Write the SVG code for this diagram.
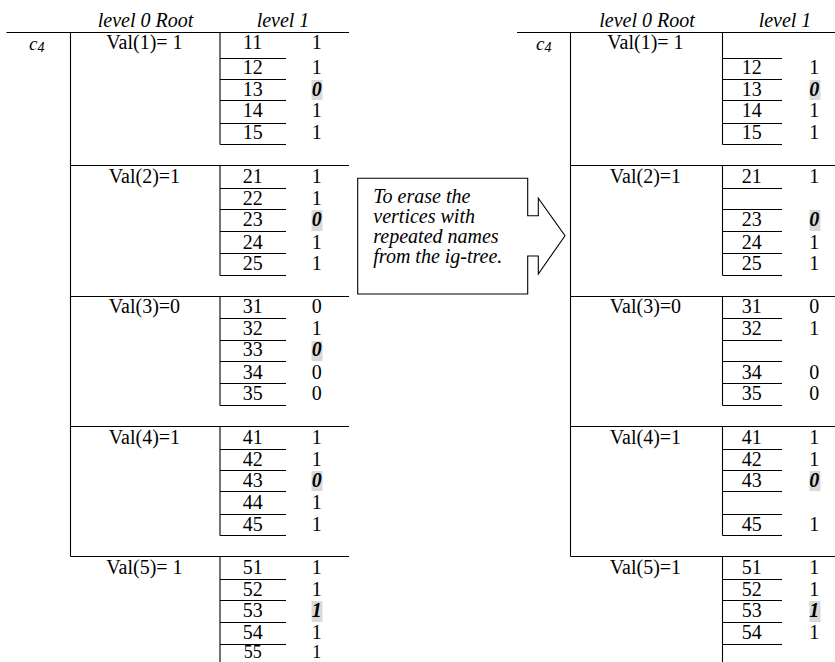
<svg xmlns="http://www.w3.org/2000/svg" width="835" height="662" viewBox="0 0 835 662">
<style>
.ln{stroke:#000;stroke-width:1.1;fill:none}
.t{font-family:"Liberation Serif","Times New Roman",serif;font-size:20px;fill:#000;text-anchor:middle}
.h{font-family:"Liberation Serif","Times New Roman",serif;font-size:20px;font-style:italic;fill:#000;text-anchor:middle}
.b{font-family:"Liberation Serif","Times New Roman",serif;font-size:20px;font-style:italic;font-weight:bold;fill:#000;text-anchor:middle}
.c{font-family:"Liberation Serif","Times New Roman",serif;font-size:19px;font-style:italic;fill:#000}
.s{font-size:18px}
.hl{fill:#d9d9d9}
</style>
<rect width="835" height="662" fill="#fff"/>

<!-- LEFT TABLE -->
<g id="left-frame">
<path class="ln" d="M6.5 32.5H349 M70.5 32.5V556.5 M70.5 165.5H349 M70.5 296.5H349 M70.5 426.5H349 M70.5 556.5H349"/>
<text class="h" x="145.5" y="26.7">level 0 Root</text>
<text class="h" x="283" y="26.7">level 1</text>
<text class="c" x="29" y="50">c<tspan font-size="14" dy="2">4</tspan></text>
</g>

<g id="left-val1">
<path class="ln" d="M220 32.5V144.5 M220 58.5H286 M220 79.5H286 M220 100.5H286 M220 123.5H286 M220 144.5H286"/>
<rect class="hl" x="311.5" y="80" width="11" height="20"/>
<text class="t" x="144.5" y="49.3">Val(1)= 1</text>
<text class="t" x="252.7" y="49.3">11</text><text class="t" x="316.7" y="49.3">1</text>
<text class="t" x="252.7" y="74">12</text><text class="t" x="316.7" y="74">1</text>
<text class="t" x="252.7" y="95.7">13</text><text class="b" x="316.7" y="95.7">0</text>
<text class="t" x="252.7" y="117.3">14</text><text class="t" x="316.7" y="117.3">1</text>
<text class="t" x="252.7" y="139.3">15</text><text class="t" x="316.7" y="139.3">1</text>
</g>

<g id="left-val2">
<path class="ln" d="M220 165.5V275.5 M220 188.5H286 M220 209.5H286 M220 231.5H286 M220 253.5H286 M220 275.5H286"/>
<rect class="hl" x="311.5" y="210" width="11" height="21"/>
<text class="t" x="144.5" y="183.3">Val(2)=1</text>
<text class="t" x="252.7" y="183.3">21</text><text class="t" x="316.7" y="183.3">1</text>
<text class="t" x="252.7" y="205">22</text><text class="t" x="316.7" y="205">1</text>
<text class="t" x="252.7" y="226">23</text><text class="b" x="316.7" y="226">0</text>
<text class="t" x="252.7" y="249">24</text><text class="t" x="316.7" y="249">1</text>
<text class="t" x="252.7" y="270">25</text><text class="t" x="316.7" y="270">1</text>
</g>

<g id="left-val3">
<path class="ln" d="M220 296.5V405.5 M220 318.5H286 M220 340.5H286 M220 361.5H286 M220 383.5H286 M220 405.5H286"/>
<rect class="hl" x="311.5" y="341" width="11" height="20"/>
<text class="t" x="144.5" y="313.3">Val(3)=0</text>
<text class="t" x="252.7" y="313.3">31</text><text class="t" x="316.7" y="313.3">0</text>
<text class="t" x="252.7" y="335">32</text><text class="t" x="316.7" y="335">1</text>
<text class="t" x="252.7" y="356">33</text><text class="b" x="316.7" y="356">0</text>
<text class="t" x="252.7" y="379">34</text><text class="t" x="316.7" y="379">0</text>
<text class="t" x="252.7" y="400">35</text><text class="t" x="316.7" y="400">0</text>
</g>

<g id="left-val4">
<path class="ln" d="M220 426.5V535.5 M220 449.5H286 M220 470.5H286 M220 491.5H286 M220 514.5H286 M220 535.5H286"/>
<rect class="hl" x="311.5" y="471" width="11" height="20"/>
<text class="t" x="144.5" y="444">Val(4)=1</text>
<text class="t" x="252.7" y="444">41</text><text class="t" x="316.7" y="444">1</text>
<text class="t" x="252.7" y="466">42</text><text class="t" x="316.7" y="466">1</text>
<text class="t" x="252.7" y="487">43</text><text class="b" x="316.7" y="487">0</text>
<text class="t" x="252.7" y="509">44</text><text class="t" x="316.7" y="509">1</text>
<text class="t" x="252.7" y="530.7">45</text><text class="t" x="316.7" y="530.7">1</text>
</g>

<g id="left-val5">
<path class="ln" d="M220 556.5V662 M220 579.5H286 M220 600.5H286 M220 622.5H286 M220 644.5H286"/>
<rect class="hl" x="311.5" y="601" width="11" height="21"/>
<text class="t" x="144.5" y="574">Val(5)= 1</text>
<text class="t" x="252.7" y="574">51</text><text class="t" x="316.7" y="574">1</text>
<text class="t" x="252.7" y="596">52</text><text class="t" x="316.7" y="596">1</text>
<text class="t" x="252.7" y="617">53</text><text class="b" x="316.7" y="617">1</text>
<text class="t" x="252.7" y="638.5">54</text><text class="t" x="316.7" y="638.5">1</text>
<text class="t s" x="252.7" y="658.3">55</text><text class="t s" x="316.7" y="658.3">1</text>
</g>

<!-- ARROW CALLOUT -->
<g id="callout">
<path class="ln" d="M357.7 178.3H527.7V215.7H538.3V198.3L565 235.7L538.3 274V256H527.7V294H357.7Z"/>
<text class="h" style="text-anchor:start" x="373.3" y="203.3">To erase the</text>
<text class="h" style="text-anchor:start" x="373.3" y="223.3">vertices with</text>
<text class="h" style="text-anchor:start" x="373.3" y="243.3">repeated names</text>
<text class="h" style="text-anchor:start" x="373.3" y="263.3">from the ig-tree.</text>
</g>

<!-- RIGHT TABLE -->
<g id="right-frame">
<path class="ln" d="M517 32.5H835 M570.5 32.5V556.5 M570.5 165.5H835 M570.5 296.5H835 M570.5 426.5H835 M570.5 556.5H835"/>
<text class="h" x="647" y="26.7">level 0 Root</text>
<text class="h" x="785" y="26.7">level 1</text>
<text class="c" x="536" y="50">c<tspan font-size="14" dy="2">4</tspan></text>
</g>

<g id="right-val1">
<path class="ln" d="M722.5 32.5V144.5 M722.5 58.5H782 M722.5 79.5H782 M722.5 100.5H782 M722.5 123.5H782 M722.5 144.5H782"/>
<rect class="hl" x="809.5" y="80" width="11" height="20"/>
<text class="t" x="645.5" y="49.3">Val(1)= 1</text>
<text class="t" x="751.7" y="74">12</text><text class="t" x="814.3" y="74">1</text>
<text class="t" x="751.7" y="95.7">13</text><text class="b" x="814.3" y="95.7">0</text>
<text class="t" x="751.7" y="117.3">14</text><text class="t" x="814.3" y="117.3">1</text>
<text class="t" x="751.7" y="139.3">15</text><text class="t" x="814.3" y="139.3">1</text>
</g>

<g id="right-val2">
<path class="ln" d="M722.5 165.5V275.5 M722.5 188.5H782 M722.5 209.5H782 M722.5 231.5H782 M722.5 253.5H782 M722.5 275.5H782"/>
<rect class="hl" x="809.5" y="210" width="11" height="21"/>
<text class="t" x="645.5" y="183.3">Val(2)=1</text>
<text class="t" x="751.7" y="183.3">21</text><text class="t" x="814.3" y="183.3">1</text>
<text class="t" x="751.7" y="226">23</text><text class="b" x="814.3" y="226">0</text>
<text class="t" x="751.7" y="249">24</text><text class="t" x="814.3" y="249">1</text>
<text class="t" x="751.7" y="270">25</text><text class="t" x="814.3" y="270">1</text>
</g>

<g id="right-val3">
<path class="ln" d="M722.5 296.5V405.5 M722.5 318.5H782 M722.5 340.5H782 M722.5 361.5H782 M722.5 383.5H782 M722.5 405.5H782"/>
<text class="t" x="645.5" y="313.3">Val(3)=0</text>
<text class="t" x="751.7" y="313.3">31</text><text class="t" x="814.3" y="313.3">0</text>
<text class="t" x="751.7" y="335">32</text><text class="t" x="814.3" y="335">1</text>
<text class="t" x="751.7" y="379">34</text><text class="t" x="814.3" y="379">0</text>
<text class="t" x="751.7" y="400">35</text><text class="t" x="814.3" y="400">0</text>
</g>

<g id="right-val4">
<path class="ln" d="M722.5 426.5V535.5 M722.5 449.5H782 M722.5 470.5H782 M722.5 491.5H782 M722.5 514.5H782 M722.5 535.5H782"/>
<rect class="hl" x="809.5" y="471" width="11" height="20"/>
<text class="t" x="645.5" y="444">Val(4)=1</text>
<text class="t" x="751.7" y="444">41</text><text class="t" x="814.3" y="444">1</text>
<text class="t" x="751.7" y="466">42</text><text class="t" x="814.3" y="466">1</text>
<text class="t" x="751.7" y="487">43</text><text class="b" x="814.3" y="487">0</text>
<text class="t" x="751.7" y="530.7">45</text><text class="t" x="814.3" y="530.7">1</text>
</g>

<g id="right-val5">
<path class="ln" d="M722.5 556.5V662 M722.5 579.5H782 M722.5 600.5H782 M722.5 622.5H782 M722.5 644.5H782"/>
<rect class="hl" x="809.5" y="601" width="11" height="21"/>
<text class="t" x="645.5" y="574">Val(5)=1</text>
<text class="t" x="751.7" y="574">51</text><text class="t" x="814.3" y="574">1</text>
<text class="t" x="751.7" y="596">52</text><text class="t" x="814.3" y="596">1</text>
<text class="t" x="751.7" y="617">53</text><text class="b" x="814.3" y="617">1</text>
<text class="t" x="751.7" y="638.5">54</text><text class="t" x="814.3" y="638.5">1</text>
</g>
</svg>
